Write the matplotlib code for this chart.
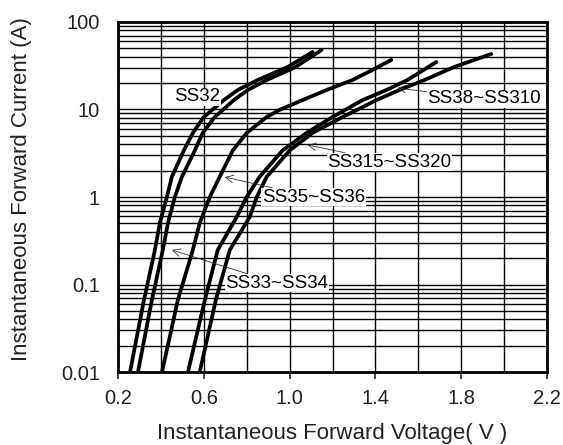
import matplotlib
matplotlib.use('Agg')
import matplotlib.pyplot as plt
from matplotlib.ticker import FixedLocator, FixedFormatter, LogLocator, NullFormatter

plt.rcParams['font.family'] = ['Liberation Sans', 'DejaVu Sans']

# forward voltage (V) vs forward current (A)
v_ss32 = [0.256, 0.321, 0.372, 0.395, 0.428, 0.451, 0.507, 0.549, 0.600, 0.693, 0.758, 0.851, 0.991, 1.107]
i_ss32 = [0.01, 0.0665, 0.248, 0.505, 1.0, 1.7, 3.4, 5.4, 8.2, 12.8, 16.7, 21.7, 30.6, 45.4]

v_ss33 = [0.293, 0.358, 0.409, 0.433, 0.465, 0.498, 0.558, 0.595, 0.651, 0.740, 0.805, 0.893, 1.028, 1.149]
i_ss33 = [0.01, 0.0665, 0.248, 0.505, 1.0, 1.7, 3.4, 5.4, 8.2, 12.8, 16.7, 21.7, 30.6, 47.9]

v_ss35 = [0.405, 0.479, 0.549, 0.581, 0.628, 0.674, 0.735, 0.800, 0.893, 0.953, 1.060, 1.172, 1.293, 1.386, 1.474]
i_ss35 = [0.01, 0.0665, 0.248, 0.505, 1.0, 1.7, 3.4, 5.4, 8.2, 9.9, 12.8, 16.7, 21.7, 28.3, 36.8]

v_ss315 = [0.526, 0.605, 0.665, 0.753, 0.800, 0.860, 0.967, 1.079, 1.200, 1.340, 1.451, 1.549, 1.684]
i_ss315 = [0.01, 0.0665, 0.248, 0.59, 1.0, 1.7, 3.4, 5.4, 8.2, 12.8, 16.7, 21.7, 34.9]

v_ss38 = [0.581, 0.656, 0.721, 0.814, 0.847, 0.893, 1.000, 1.107, 1.247, 1.405, 1.512, 1.628, 1.767, 1.940]
i_ss38 = [0.01, 0.0665, 0.248, 0.59, 1.0, 1.7, 3.4, 5.4, 8.2, 12.8, 16.7, 21.7, 30.6, 43.1]

x_ticks = [0.2, 0.6, 1.0, 1.4, 1.8, 2.2]
x_tick_labels = ['0.2', '0.6', '1.0', '1.4', '1.8', '2.2']
y_ticks = [0.01, 0.1, 1, 10, 100]
y_tick_labels = ['0.01', '0.1', '1', '10', '100']

fig = plt.figure(figsize=(5.63, 4.45), dpi=100)
ax = fig.add_axes([0.2096, 0.164, 0.762, 0.7866])

for v, i in [(v_ss32, i_ss32), (v_ss33, i_ss33), (v_ss35, i_ss35),
             (v_ss315, i_ss315), (v_ss38, i_ss38)]:
    ax.plot(v, i, color='black', lw=2.7, solid_capstyle='round', solid_joinstyle='round', zorder=3)

ax.set_yscale('log')
ax.set_xlim(0.2, 2.2)
ax.set_ylim(0.01, 100)

ax.xaxis.set_major_locator(FixedLocator(x_ticks))
ax.xaxis.set_major_formatter(FixedFormatter(x_tick_labels))
ax.xaxis.set_minor_locator(FixedLocator([0.4, 0.8, 1.2, 1.6, 2.0]))
ax.yaxis.set_major_locator(FixedLocator(y_ticks))
ax.yaxis.set_major_formatter(FixedFormatter(y_tick_labels))
ax.yaxis.set_minor_locator(LogLocator(base=10, subs=range(2, 10)))
ax.yaxis.set_minor_formatter(NullFormatter())

ax.grid(which='both', color='black', lw=1.0)
ax.set_axisbelow(True)
for s in ax.spines.values():
    s.set_linewidth(2.0)

ax.tick_params(axis='x', which='major', direction='out', length=5, width=1.2,
               pad=7, labelsize=14.5, color='#222222', labelcolor='#222222')
ax.tick_params(axis='x', which='minor', length=0)
ax.tick_params(axis='y', which='both', length=0, pad=13, labelsize=14.5, labelcolor='#222222')

ax.set_xlabel('Instantaneous Forward Voltage( V )', fontsize=16, color='#222222')
ax.set_ylabel('Instantaneous Forward Current (A)', fontsize=16, color='#222222')
ax.xaxis.set_label_coords(0.5, -0.146)
ax.yaxis.set_label_coords(-0.2, 0.523)

box = dict(fc='white', ec='none', pad=0.5)
arrow = dict(arrowstyle='->', lw=0.6, color='#333333', shrinkA=0, shrinkB=0)
ax.text(0.567, 13.9, 'SS32', fontsize=13.5, ha='center', va='center', bbox=box, zorder=4)
ax.annotate('SS33~SS34', xy=(0.451, 0.248), xytext=(0.70, 0.104), fontsize=13.5,
            ha='left', va='center', bbox=box, arrowprops=arrow, zorder=4)
ax.annotate('SS35~SS36', xy=(0.698, 1.69), xytext=(0.87, 1.0), fontsize=13.5,
            ha='left', va='center', bbox=box, arrowprops=arrow, zorder=4)
ax.annotate('SS315~SS320', xy=(1.084, 3.93), xytext=(1.177, 2.51), fontsize=13.5,
            ha='left', va='center', bbox=box, arrowprops=arrow, zorder=4)
ax.annotate('SS38~SS310', xy=(1.502, 17.6), xytext=(1.642, 13.2), fontsize=13.5,
            ha='left', va='center', bbox=box, arrowprops=arrow, zorder=4)

fig.savefig('out.png', dpi=100)
